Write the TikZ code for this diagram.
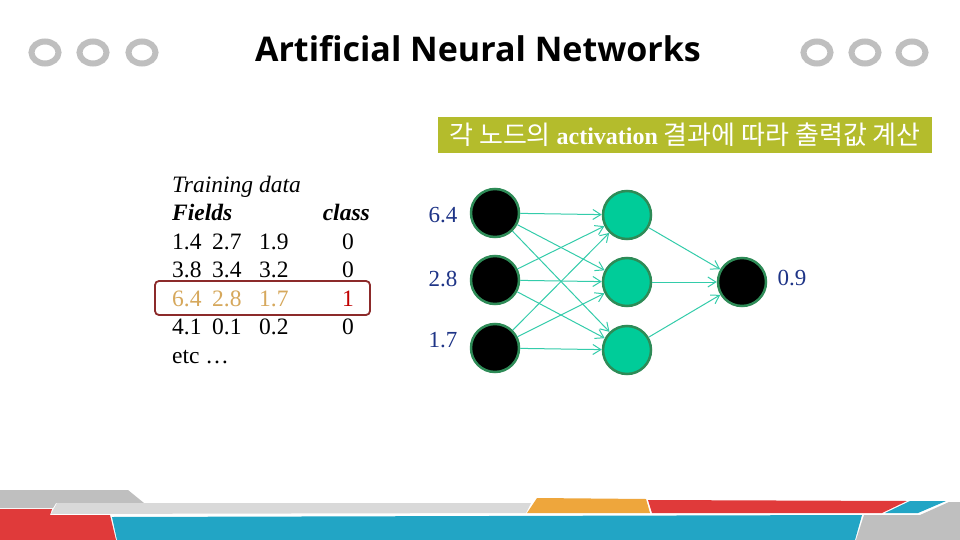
\documentclass[tikz,border=0pt]{standalone}
\usepackage{fontspec}
\setmainfont{Liberation Serif}
\newfontfamily\titlefont{Open Sans}
\newfontfamily\krfont{Noto Sans CJK KR}
\usetikzlibrary{arrows.meta}
\definecolor{ringgray}{RGB}{191,191,191}
\definecolor{lightgray2}{RGB}{217,217,217}
\definecolor{decored}{RGB}{224,58,58}
\definecolor{decoblue}{RGB}{34,165,197}
\definecolor{decoorange}{RGB}{238,166,60}
\definecolor{olivebox}{RGB}{180,188,44}
\definecolor{hiltan}{RGB}{214,168,92}
\definecolor{hilred}{RGB}{192,0,0}
\definecolor{boxred}{RGB}{140,42,42}
\definecolor{nodeborder}{RGB}{46,139,87}
\definecolor{hiddenfill}{RGB}{0,204,153}
\definecolor{edgecol}{RGB}{51,204,170}
\definecolor{labblue}{RGB}{30,52,135}
\begin{document}
\begin{tikzpicture}[x=1pt,y=-1pt,
  ring/.style={draw=ringgray,line width=6pt},
  cell/.style={anchor=base west,inner sep=0pt,font=\fontsize{23.5}{27}\selectfont},
  hil/.style={cell,text=hiltan},
  neuron/.style={circle,minimum size=48pt,inner sep=0pt,draw=nodeborder,line width=2.5pt},
  inneuron/.style={neuron,fill=black},
  hidneuron/.style={neuron,fill=hiddenfill},
  conn/.style={draw=edgecol,line width=1pt,-{Straight Barb[length=8pt,width=10pt]}},
  netlab/.style={text=labblue,inner sep=0pt,font=\fontsize{23}{27}\selectfont}]
\useasboundingbox (0,0) rectangle (960,540);
\fill[white] (0,0) rectangle (960,540);
% rings
\draw[ring] (45,52.5) ellipse [x radius=13.5, y radius=11];
\draw[ring] (93,52.5) ellipse [x radius=13.5, y radius=11];
\draw[ring] (142,52.5) ellipse [x radius=13.5, y radius=11];
\draw[ring] (817,52.5) ellipse [x radius=13.5, y radius=11];
\draw[ring] (865,52.5) ellipse [x radius=13.5, y radius=11];
\draw[ring] (912,52.5) ellipse [x radius=13.5, y radius=11];
% title
\node[inner sep=0pt,anchor=base] (title) at (478,62) {\titlefont\bfseries\fontsize{34}{40}\selectfont Artificial Neural Networks};
% green caption box
\node[fill=olivebox,minimum width=494pt,minimum height=36pt,inner sep=0pt,text=white] (caption) at (685,135)
 {\fontsize{26}{30}\selectfont\krfont 각 노드의 \rmfamily\bfseries\fontsize{24}{30}\selectfont activation \mdseries\krfont\fontsize{26}{30}\selectfont 결과에 따라 출력값 계산};
% training data
\node[cell] (tdata) at (172,192) {\itshape Training data};
\node[cell] (fields) at (172,220.5) {\bfseries\itshape Fields};
\node[cell,anchor=base east] (classh) at (370,220.5) {\bfseries\itshape class};
\node[cell] (r1a) at (172,249) {1.4};
\node[cell] (r1b) at (212,249) {2.7};
\node[cell] (r1c) at (259,249) {1.9};
\node[cell,anchor=base] (r1d) at (348,249) {0};
\node[cell] (r2a) at (172,277.5) {3.8};
\node[cell] (r2b) at (212,277.5) {3.4};
\node[cell] (r2c) at (259,277.5) {3.2};
\node[cell,anchor=base] (r2d) at (348,277.5) {0};
\node[hil] (r3a) at (172,306) {6.4};
\node[hil] (r3b) at (212,306) {2.8};
\node[hil] (r3c) at (259,306) {1.7};
\node[cell,anchor=base,text=hilred] (r3d) at (348,306) {1};
\node[cell] (r4a) at (172,334.5) {4.1};
\node[cell] (r4b) at (212,334.5) {0.1};
\node[cell] (r4c) at (259,334.5) {0.2};
\node[cell,anchor=base] (r4d) at (348,334.5) {0};
\node[cell] (etc) at (172,363) {etc \dots};
\draw[boxred,line width=1.8pt,rounded corners=4pt] (155,281) rectangle (370,315);
% network
\node[inneuron] (i1) at (495,213) {};
\node[inneuron] (i2) at (495,280) {};
\node[inneuron] (i3) at (495,348) {};
\node[hidneuron] (h1) at (627,215) {};
\node[hidneuron] (h2) at (627,282) {};
\node[hidneuron] (h3) at (627,350) {};
\node[inneuron] (o) at (742,282) {};
\foreach \i in {1,2,3}{\foreach \h in {1,2,3}{\draw[conn] (i\i) -- (h\h);}}
\foreach \h in {1,2,3}{\draw[conn] (h\h) -- (o);}
\node[netlab] (l1) at (443,215) {6.4};
\node[netlab] (l2) at (443,279) {2.8};
\node[netlab] (l3) at (443,340) {1.7};
\node[netlab] (lo) at (792,278) {0.9};
% bottom decoration
\fill[ringgray] (0,490) -- (128,490) -- (144,503) -- (56,503) -- (53,508) -- (0,508) -- cycle;
\fill[lightgray2] (57,503) -- (531,503) -- (526,513) -- (51,514) -- cycle;
\fill[decored] (0,509) -- (52,509) -- (50,515) -- (110,515) -- (116,540) -- (0,540) -- cycle;
\fill[decoblue] (112,517) -- (862,515) -- (855,540) -- (117,540) -- cycle;
\fill[decoorange] (537,498) -- (646,499) -- (650,513) -- (527,513) -- cycle;
\fill[decored] (648,500) -- (907,501) -- (882,513) -- (652,513) -- cycle;
\fill[decoblue] (910,501) -- (946,501) -- (918,513) -- (885,513) -- cycle;
\fill[ringgray] (864,515) -- (920,515) -- (949,502) -- (960,502) -- (960,540) -- (856,540) -- cycle;
\end{tikzpicture}
\end{document}
